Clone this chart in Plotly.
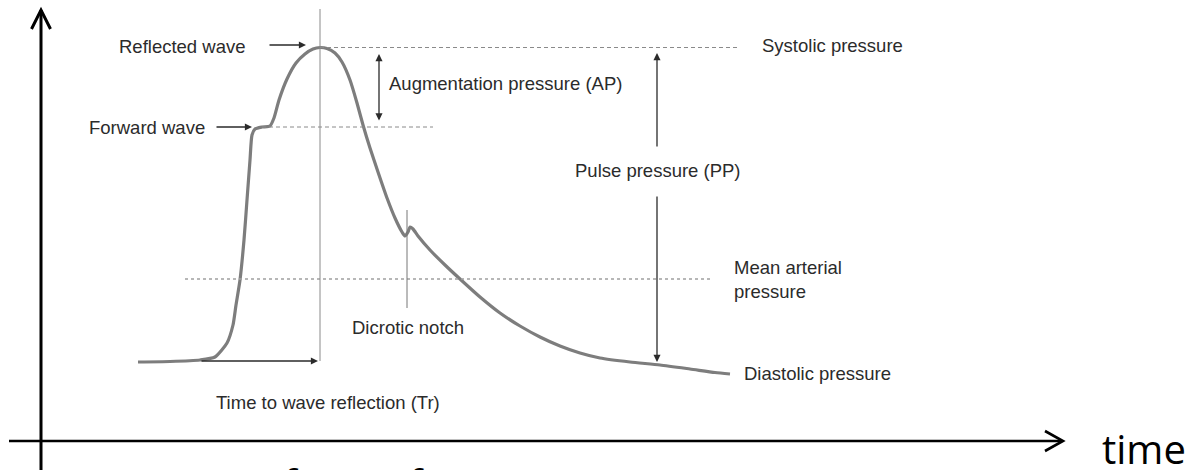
import plotly.graph_objects as go

# ---- data (schematic aortic pressure waveform) ----
time_pts = [138, 170, 200, 215, 227, 233, 236, 240, 244, 247, 250, 252, 255, 262, 270,
            274, 279, 287, 296, 305, 313, 320, 327, 335, 342, 350, 357, 363, 370, 378,
            387, 395, 402, 405, 408, 410, 413, 418, 430, 445, 460, 480, 500, 520, 540,
            560, 580, 600, 630, 660, 690, 715, 730]
pressure = [108, 108.5, 110, 113, 127, 145, 165, 190, 230, 270, 310, 335, 341, 343, 344,
            352, 370, 391, 407, 416, 421, 422.5, 421.5, 417, 408, 390, 367, 345, 322, 298,
            272, 252, 238, 234, 238, 243, 241, 234, 220, 205, 191, 173, 157, 144, 133,
            124, 117, 112, 108, 105, 101, 97.5, 96]

systolic_level = 422.5
forward_level = 343
mean_level = 191
reflection_time = 320
notch_time = 407

labels = {
    "reflected": "Reflected wave",
    "forward": "Forward wave",
    "ap": "Augmentation pressure (AP)",
    "systolic": "Systolic pressure",
    "pp": "Pulse pressure (PP)",
    "map": "Mean arterial<br>pressure",
    "notch": "Dicrotic notch",
    "diastolic": "Diastolic pressure",
    "tr": "Time to wave reflection (Tr)",
}
axis_label = "time"
bottom_caption = "mini, minor arc form of pressure over time"

W, H = 1190, 470
CURVE = "#7d7d7d"
GUIDE = "#8a8a8a"
INK = "#2b2b2b"
LABEL_FONT = dict(family="Liberation Sans, Arial, sans-serif", size=18.5, color=INK)

fig = go.Figure()

# waveform
fig.add_trace(go.Scatter(x=time_pts, y=pressure, mode="lines",
                         line=dict(color=CURVE, width=3.2, shape="spline", smoothing=0.6),
                         hoverinfo="skip", showlegend=False))

shapes = []
# reference lines
shapes.append(dict(type="line", x0=reflection_time, x1=738, y0=systolic_level, y1=systolic_level,
                   line=dict(color=GUIDE, width=1, dash="4px,3px")))
shapes.append(dict(type="line", x0=262, x1=433, y0=forward_level, y1=forward_level,
                   line=dict(color=GUIDE, width=1, dash="4px,3px")))
shapes.append(dict(type="line", x0=185, x1=713, y0=mean_level, y1=mean_level,
                   line=dict(color="#a0a0a0", width=1.3, dash="dot")))
# vertical line at reflection time
shapes.append(dict(type="line", x0=reflection_time, x1=reflection_time, y0=109, y1=461,
                   line=dict(color=GUIDE, width=1)))
# dicrotic notch pointer
shapes.append(dict(type="line", x0=notch_time, x1=notch_time, y0=162, y1=260,
                   line=dict(color="#777777", width=1)))
# main axes
shapes.append(dict(type="line", x0=41, x1=41, y0=-5, y1=460, line=dict(color="black", width=3)))
shapes.append(dict(type="path", path="M 31.5 441 L 41 460 L 50.5 441",
                   line=dict(color="black", width=3)))
shapes.append(dict(type="line", x0=9, x1=1062, y0=29, y1=29, line=dict(color="black", width=2.6)))
shapes.append(dict(type="path", path="M 1045 39 L 1063 29 L 1045 19",
                   line=dict(color="black", width=2.6)))

annotations = []


def arrow(x, y, ax, ay, both=False):
    d = dict(x=x, y=y, ax=ax, ay=ay, xref="x", yref="y", axref="x", ayref="y",
             text="", showarrow=True, arrowhead=2, arrowsize=1.1, arrowwidth=1.3,
             arrowcolor=INK, standoff=0, startstandoff=0)
    if both:
        d.update(arrowside="end+start", startarrowhead=2, startarrowsize=1.1)
    annotations.append(d)


def label(text, x, y, xanchor="left", align="left"):
    annotations.append(dict(x=x, y=y, xref="x", yref="y", text=text, showarrow=False,
                            xanchor=xanchor, yanchor="middle", align=align, font=LABEL_FONT))


arrow(306, 425, 268, 425)            # reflected wave
arrow(252, 343, 215, 343)            # forward wave
arrow(379, 416, 379, 348, both=True)  # AP
arrow(657, 417, 657, 322)            # PP up
arrow(657, 108, 657, 275)            # PP down
arrow(318, 109, 200, 109)            # Tr

label(labels["reflected"], 117, 424)
label(labels["forward"], 87, 343)
label(labels["ap"], 387, 387)
label(labels["systolic"], 760, 425)
label(labels["pp"], 658, 300, xanchor="center", align="center")
label(labels["map"], 732, 191)
label(labels["notch"], 408, 143, xanchor="center", align="center")
label(labels["diastolic"], 742, 97)
label(labels["tr"], 328, 68, xanchor="center", align="center")

annotations.append(dict(x=1100, y=22, xref="x", yref="y", text=axis_label, showarrow=False,
                        xanchor="left", yanchor="middle",
                        font=dict(family="Open Sans, sans-serif", size=40, color="black")))
# caption below the picture, only its top edge shows in the frame
annotations.append(dict(x=-12 / W, y=-13 / H, xref="paper", yref="paper", text=bottom_caption,
                        showarrow=False, xanchor="left", yanchor="middle",
                        font=dict(family="Open Sans, sans-serif", size=40, color="black")))

fig.update_layout(
    width=W, height=H, autosize=False,
    margin=dict(l=0, r=0, t=0, b=0),
    paper_bgcolor="white", plot_bgcolor="white",
    xaxis=dict(range=[0, W], visible=False, fixedrange=True),
    yaxis=dict(range=[0, H], visible=False, fixedrange=True),
    shapes=shapes, annotations=annotations,
    hovermode=False, showlegend=False,
)

fig.write_html(
    "out.html",
    config={"displayModeBar": False},
    post_script="document.body.style.margin='0';document.body.style.overflow='hidden';",
)
